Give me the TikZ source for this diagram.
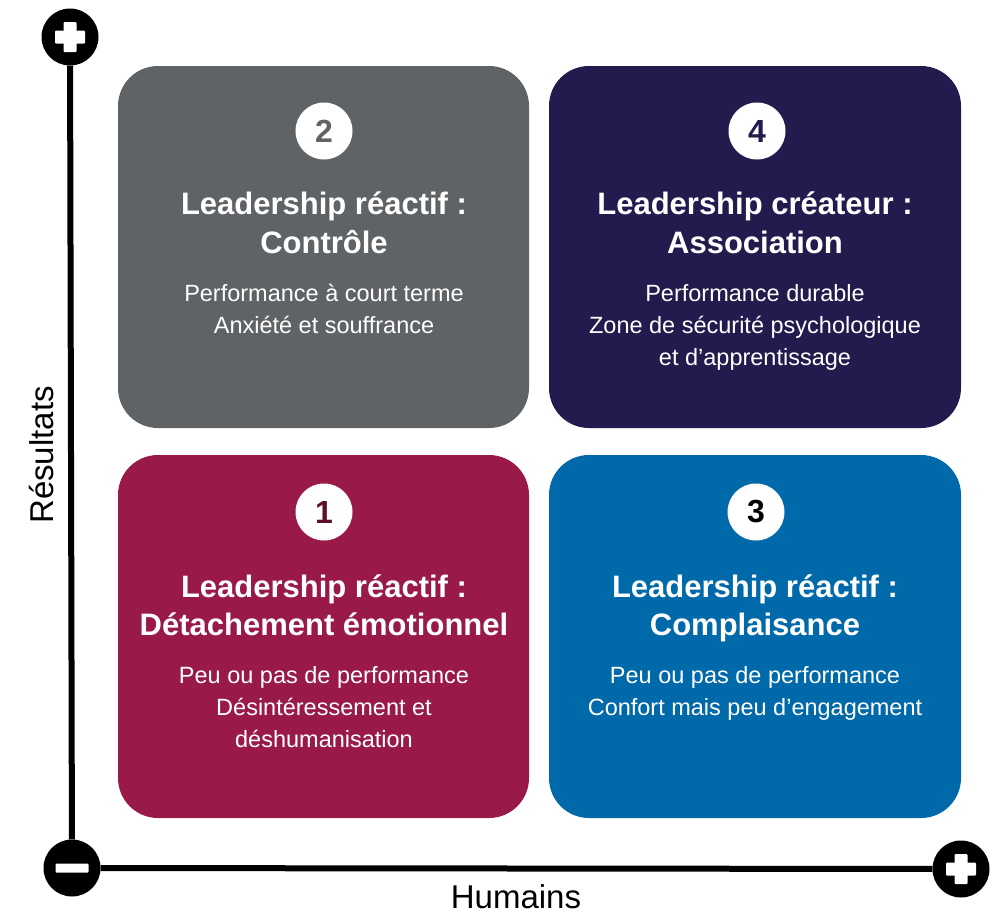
\documentclass[tikz,border=0pt]{standalone}
\usepackage{fontspec}
\setmainfont{Liberation Sans}
\definecolor{cgray}{HTML}{606366}
\definecolor{cnavy}{HTML}{221C4E}
\definecolor{ccrim}{HTML}{991A48}
\definecolor{cblue}{HTML}{0069AA}
\begin{document}
\begin{tikzpicture}[x=1pt,y=-1pt,
  quad/.style={draw=none, rounded corners=40pt, minimum width=411pt, minimum height=362pt, inner sep=0pt},
  numc/.style={circle, fill=white, minimum size=57pt, inner sep=0pt, font=\fontsize{32}{32}\selectfont\bfseries},
  ttl/.style={text=white, anchor=base, inner sep=0pt, font=\fontsize{31}{31}\selectfont\bfseries},
  bdy/.style={text=white, anchor=base, inner sep=0pt, font=\fontsize{23.5}{23.5}\selectfont},
  axc/.style={circle, fill=black, minimum size=57pt, inner sep=0pt},
  axl/.style={line width=6pt},
  axlab/.style={inner sep=0pt, font=\fontsize{33}{33}\selectfont},
  plusbar/.style={fill=white, rounded corners=1pt}
]
\useasboundingbox (0,0) rectangle (997,919);
\fill[white] (0,0) rectangle (997,919);

% quadrants
\node[quad, fill=cgray] (q2) at (323.5,247) {};
\node[quad, fill=cnavy, minimum width=412pt] (q4) at (755,247) {};
\node[quad, fill=ccrim, minimum height=363pt] (q1) at (323.5,636.5) {};
\node[quad, fill=cblue, minimum width=412pt, minimum height=363pt] (q3) at (755,636.5) {};

% numbers
\node[numc, text=cgray] (n2) at (324,131) {2};
\node[numc, text=cnavy] (n4) at (757,131) {4};
\node[numc, text=ccrim!60!black] (n1) at (324,512) {1};
\node[numc, text=black] (n3) at (756,512) {3};

% quadrant 2
\node[ttl] (t2a) at (324,214) {Leadership réactif :};
\node[ttl] (t2b) at (324,253) {Contrôle};
\node[bdy] (b2a) at (324,301) {Performance à court terme};
\node[bdy] (b2b) at (324,333) {Anxiété et souffrance};

% quadrant 4
\node[ttl] (t4a) at (755,214) {Leadership créateur :};
\node[ttl] (t4b) at (755,253) {Association};
\node[bdy] (b4a) at (755,301) {Performance durable};
\node[bdy] (b4b) at (755,333) {Zone de sécurité psychologique};
\node[bdy] (b4c) at (755,365) {et d’apprentissage};

% quadrant 1
\node[ttl] (t1a) at (324,597) {Leadership réactif :};
\node[ttl] (t1b) at (324,635) {Détachement émotionnel};
\node[bdy] (b1a) at (324,683) {Peu ou pas de performance};
\node[bdy] (b1b) at (324,715) {Désintéressement et};
\node[bdy] (b1c) at (324,747) {déshumanisation};

% quadrant 3
\node[ttl] (t3a) at (755,597) {Leadership réactif :};
\node[ttl] (t3b) at (755,635) {Complaisance};
\node[bdy] (b3a) at (755,683) {Peu ou pas de performance};
\node[bdy] (b3b) at (755,715) {Confort mais peu d’engagement};

% axes
\node[axc] (top) at (70,37) {};
\node[axc] (origin) at (72,868) {};
\node[axc] (right) at (961,869) {};
\draw[axl] (origin) -- (top);
\draw[axl] (origin) -- (right);

\begin{scope}[shift={(top.center)}]
\fill[plusbar] (-15,-6.5) rectangle (15,6.5);
\fill[plusbar] (-6.5,-15) rectangle (6.5,15);
\end{scope}
\begin{scope}[shift={(right.center)}]
\fill[plusbar] (-15,-6.5) rectangle (15,6.5);
\fill[plusbar] (-6.5,-15) rectangle (6.5,15);
\end{scope}
\begin{scope}[shift={(origin.center)}]
\fill[plusbar] (-16.5,-4.5) rectangle (16.5,4.5);
\end{scope}

\node[axlab, rotate=90] (ylab) at (42,455) {Résultats};
\node[axlab] (xlab) at (516,897) {Humains};
\end{tikzpicture}
\end{document}
